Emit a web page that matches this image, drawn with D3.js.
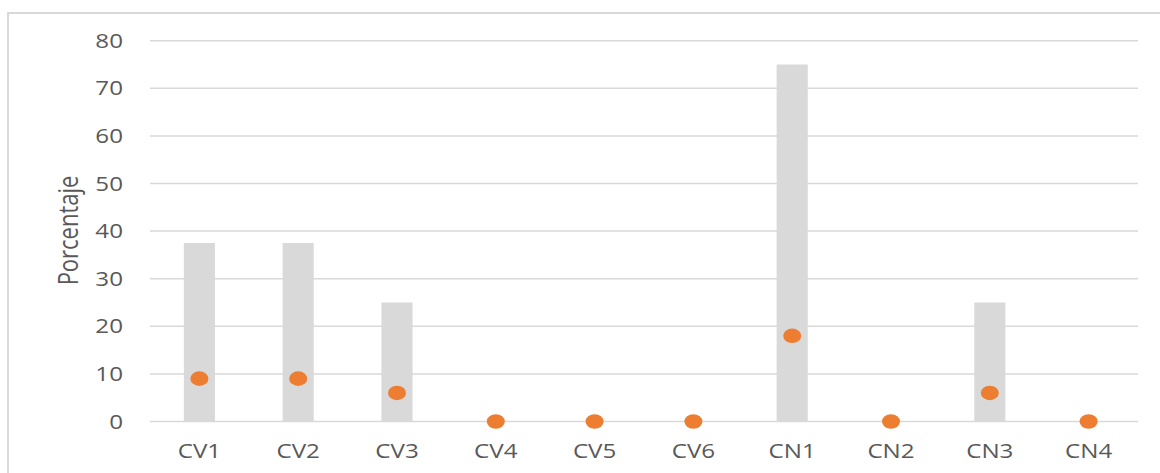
<!DOCTYPE html>
<html>
<head>
<meta charset="utf-8">
<script src="https://cdn.jsdelivr.net/npm/d3@7"></script>
<style>
  html, body { margin: 0; padding: 0; background: #fff; }
  svg { display: block; }
  text { font-family: "Open Sans", sans-serif; fill: #595959; }
</style>
</head>
<body>
<svg id="chart" width="1160" height="473"></svg>
<script>
// Categories, bar series and dot series
const categories = ["CV1", "CV2", "CV3", "CV4", "CV5", "CV6", "CN1", "CN2", "CN3", "CN4"];
const barValues = [37.5, 37.5, 25, 0, 0, 0, 75, 0, 25, 0];
const dotValues = [9, 9, 6, 0, 0, 0, 18, 0, 6, 0];
const yTicks = [0, 10, 20, 30, 40, 50, 60, 70, 80];
const yTitle = "Porcentaje";

const svg = d3.select("#chart");
const W = 1160, H = 473;
const plot = { left: 150, right: 1138, top: 40.7, bottom: 421.5 };
const stretch = 1.24; // horizontal text widening

// Outer frame (left and top edges visible)
svg.append("rect")
  .attr("x", 8).attr("y", 13)
  .attr("width", W + 20).attr("height", H + 20)
  .attr("fill", "none").attr("stroke", "#d9d9d9").attr("stroke-width", 2);

const x = d3.scaleBand().domain(categories)
  .range([plot.left, plot.right]).paddingInner(0).paddingOuter(0);
const y = d3.scaleLinear().domain([0, 80]).range([plot.bottom, plot.top]);

// Horizontal gridlines
svg.append("g").selectAll("line").data(yTicks).join("line")
  .attr("x1", plot.left).attr("x2", plot.right)
  .attr("y1", d => y(d)).attr("y2", d => y(d))
  .attr("stroke", "#d9d9d9").attr("stroke-width", 1.5);

// Bars
const barW = x.bandwidth() * 0.315;
svg.append("g").selectAll("rect").data(categories).join("rect")
  .attr("x", (d) => x(d) + x.bandwidth() / 2 - barW / 2)
  .attr("width", barW)
  .attr("y", (d, i) => y(barValues[i]))
  .attr("height", (d, i) => y(0) - y(barValues[i]))
  .attr("fill", "#d9d9d9");

// Dots
svg.append("g").selectAll("ellipse").data(categories).join("ellipse")
  .attr("cx", d => x(d) + x.bandwidth() / 2)
  .attr("cy", (d, i) => y(dotValues[i]))
  .attr("rx", 9).attr("ry", 7.3)
  .attr("fill", "#ed7d31");

// Y tick labels
svg.append("g").selectAll("text").data(yTicks).join("text")
  .attr("transform", d => `translate(123,${y(d)}) scale(${stretch},1)`)
  .attr("text-anchor", "end")
  .attr("dy", "0.36em")
  .attr("font-size", 19.5)
  .text(d => d);

// X category labels
svg.append("g").selectAll("text").data(categories).join("text")
  .attr("transform", d => `translate(${x(d) + x.bandwidth() / 2},458) scale(${stretch},1)`)
  .attr("text-anchor", "middle")
  .attr("font-size", 19.5)
  .text(d => d);

// Y axis title
svg.append("text")
  .attr("transform", `translate(77.5,230.5) rotate(-90) scale(1,1.2)`)
  .attr("text-anchor", "middle")
  .attr("font-size", 22)
  .text(yTitle);
</script>
</body>
</html>
